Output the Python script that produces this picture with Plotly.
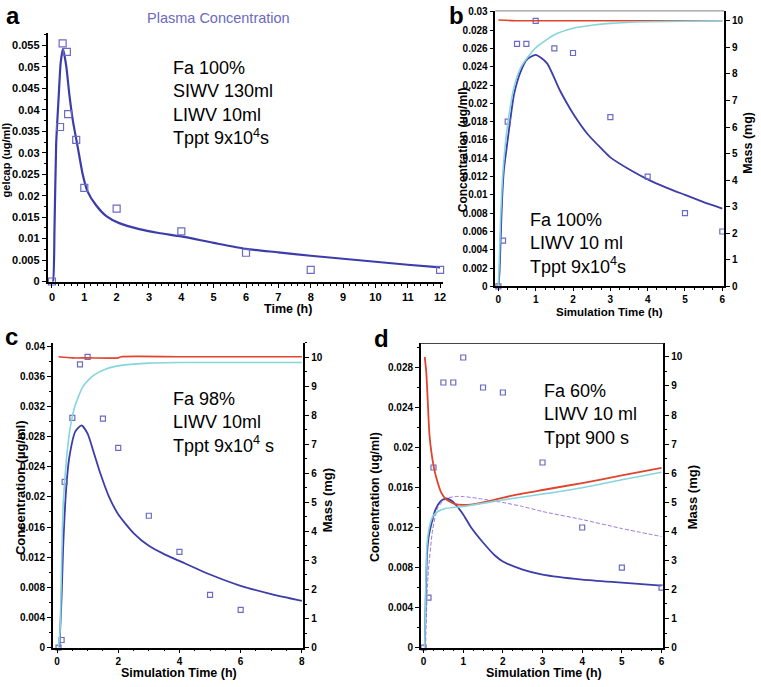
import plotly.graph_objects as go

W, H = 761, 687

# ---------------- Panel a : plasma concentration (gelcap) ----------------
a_obs_time = [0, 0.25, 0.33, 0.46, 0.5, 0.75, 1, 2, 4, 6, 8, 12]
a_obs_conc = [0, 0.036, 0.0555, 0.0535, 0.039, 0.033, 0.0218, 0.017, 0.0117, 0.0067, 0.0027, 0.0027]
a_sim_time = [0, 0.03, 0.08, 0.13, 0.21, 0.27, 0.34, 0.44, 0.54, 0.65, 0.8, 0.95, 1.1, 1.37,
              1.67, 2.08, 2.7, 3.3, 4, 5, 6, 7, 8, 9, 10, 11, 12]
a_sim_conc = [0, 0, 0.0128, 0.032, 0.0434, 0.051, 0.0542, 0.0503, 0.0434, 0.0373, 0.0312, 0.025,
              0.021, 0.0177, 0.0153, 0.0136, 0.0122, 0.0113, 0.0105, 0.009, 0.0076, 0.0068,
              0.006, 0.0053, 0.0046, 0.0039, 0.0033]

# observed data shared by panels b and d
bd_obs_time = [0, 0.125, 0.25, 0.5, 0.75, 1, 1.5, 2, 3, 4, 5, 6]
bd_obs_conc = [0, 0.005, 0.018, 0.0265, 0.0265, 0.029, 0.026, 0.0255, 0.0185, 0.012, 0.008, 0.006]

# ---------------- Panel b ----------------
b_conc_time = [0, 0.03, 0.06, 0.1, 0.15, 0.24, 0.33, 0.42, 0.6, 0.77, 1.0, 1.3, 1.65, 2.0, 2.4,
               2.8, 3.0, 3.5, 4.0, 4.5, 5.0, 5.5, 6.0]
b_conc = [0, 0.0015, 0.005, 0.0095, 0.0128, 0.0157, 0.0185, 0.021, 0.0235, 0.0248, 0.0253, 0.0244,
          0.0214, 0.0189, 0.0166, 0.0149, 0.0141, 0.0128, 0.0117, 0.0108, 0.01, 0.0092, 0.0085]
b_mass_time = [0, 0.03, 0.06, 0.1, 0.15, 0.24, 0.42, 0.6, 0.8, 1.0, 1.5, 2.0, 2.5, 3, 4, 5, 6]
b_mass_abs = [0, 1.2, 2.6, 3.8, 4.8, 6.0, 7.5, 8.24, 8.65, 8.98, 9.47, 9.72, 9.83, 9.9, 9.96, 9.98, 10.0]
b_dose_time = [0, 0.5, 1, 2, 3, 4, 5, 6]
b_dose = [10.03, 10.0, 10.0, 10.0, 10.0, 10.0, 10.0, 10.0]

# ---------------- Panel c ----------------
c_obs_time = [0.05, 0.15, 0.25, 0.5, 0.75, 1, 1.5, 2, 3, 4, 5, 6]
c_obs_conc = [0, 0.001, 0.022, 0.0305, 0.0376, 0.0386, 0.0304, 0.0265, 0.0175, 0.0127, 0.007, 0.005]
c_conc_time = [0.08, 0.15, 0.2, 0.3, 0.4, 0.6, 0.8, 1.0, 1.2, 1.4, 1.7, 2.0, 2.5, 3.0, 3.5,
               4.0, 5.0, 6.0, 7.0, 8.0]
c_conc = [0, 0.0067, 0.0132, 0.0211, 0.0252, 0.0287, 0.0295, 0.0284, 0.0259, 0.0233, 0.02,
          0.0177, 0.0152, 0.0135, 0.0124, 0.0115, 0.0097, 0.0082, 0.0071, 0.0062]
c_mass_time = [0.05, 0.1, 0.15, 0.2, 0.31, 0.42, 0.58, 0.85, 1.18, 1.6, 2.16, 3.0, 4, 6, 8]
c_mass_abs = [0, 0.6, 2.9, 4.9, 6.5, 7.5, 8.3, 9.0, 9.37, 9.6, 9.73, 9.8, 9.82, 9.82, 9.82]
c_dose_time = [0.05, 0.5, 1, 2, 2.1, 4, 6, 8]
c_dose = [10.02, 9.98, 9.98, 9.98, 10.02, 10.02, 10.02, 10.02]

# ---------------- Panel d ----------------
d_conc_time = [0.03, 0.06, 0.09, 0.13, 0.2, 0.3, 0.42, 0.55, 0.7, 0.85, 1.0, 1.2, 1.5, 1.8, 2.0,
               2.5, 3.0, 4.0, 5.0, 6.0]
d_conc = [0, 0.0059, 0.0095, 0.0111, 0.0124, 0.0138, 0.0146, 0.0149, 0.0147, 0.0141, 0.0133,
          0.012, 0.0105, 0.0092, 0.0086, 0.0078, 0.0073, 0.0068, 0.0065, 0.0062]
d_conc2_time = [0.05, 0.11, 0.23, 0.36, 0.57, 0.8, 1.0, 1.4, 2.0, 2.5, 3.0, 4.0, 5.0, 6.0]
d_conc2 = [0, 0.007, 0.0118, 0.014, 0.0149, 0.0151, 0.0151, 0.0149, 0.0145, 0.0141, 0.0136,
           0.0128, 0.0119, 0.0111]
d_mass_time = [0.03, 0.06, 0.09, 0.15, 0.23, 0.36, 0.57, 1.0, 1.74, 2.24, 3.0, 4.0, 5.0, 6.0]
d_mass_abs = [0, 2.47, 3.6, 4.17, 4.5, 4.68, 4.79, 4.85, 5.02, 5.13, 5.28, 5.5, 5.77, 6.03]
d_dose_time = [0.03, 0.07, 0.11, 0.15, 0.2, 0.26, 0.32, 0.44, 0.57, 0.8, 1.2, 1.7, 2.2, 3, 4, 5, 6]
d_dose = [10.0, 9.45, 8.35, 7.3, 6.7, 6.2, 5.85, 5.35, 5.1, 4.93, 4.92, 5.05, 5.22, 5.42, 5.66,
          5.92, 6.18]

# ---------------- styles ----------------
DARK = '#3c3caa'
OBS = '#6b6bc4'
CYAN = '#86d5de'
RED = '#e0442c'
PURP = '#9b79d6'
FONT = 'Liberation Sans, Arial, sans-serif'


def px(x):
    return x / W


def py(y):
    return 1 - y / H


fig = go.Figure()


def line(x, y, xa, ya, color, width=1.8, dash='solid'):
    fig.add_trace(go.Scatter(x=x, y=y, mode='lines', xaxis=xa, yaxis=ya,
                             line=dict(color=color, width=width, dash=dash, shape='spline',
                                       smoothing=0.6),
                             showlegend=False, hoverinfo='skip'))


def obs(x, y, xa, ya, size):
    fig.add_trace(go.Scatter(x=x, y=y, mode='markers', xaxis=xa, yaxis=ya, cliponaxis=False,
                             marker=dict(symbol='square-open', size=size, color=OBS,
                                         line=dict(width=1.2, color=OBS)),
                             showlegend=False, hoverinfo='skip'))


# panel a
line(a_sim_time, a_sim_conc, 'x', 'y', DARK, 2.2)
obs(a_obs_time, a_obs_conc, 'x', 'y', 7)
# panel b
line(b_dose_time, b_dose, 'x2', 'y3', RED, 1.6)
line(b_mass_time, b_mass_abs, 'x2', 'y3', CYAN, 1.6)
line(b_conc_time, b_conc, 'x2', 'y2', DARK, 1.8)
obs(bd_obs_time, bd_obs_conc, 'x2', 'y2', 5)
# panel c
line(c_dose_time, c_dose, 'x3', 'y5', RED, 1.6)
line(c_mass_time, c_mass_abs, 'x3', 'y5', CYAN, 1.6)
line(c_conc_time, c_conc, 'x3', 'y4', DARK, 1.8)
obs(c_obs_time, c_obs_conc, 'x3', 'y4', 5)
# panel d
line(d_dose_time, d_dose, 'x4', 'y7', RED, 1.8)
line(d_mass_time, d_mass_abs, 'x4', 'y7', CYAN, 1.6)
line(d_conc2_time, d_conc2, 'x4', 'y6', PURP, 1.0, '4px,2px')
line(d_conc_time, d_conc, 'x4', 'y6', DARK, 1.8)
obs(bd_obs_time, bd_obs_conc, 'x4', 'y6', 5)


def ax(domain, rng, dtick, minor, tf=10, lw=1.5, **kw):
    d = dict(domain=domain, range=rng, dtick=dtick, tick0=0, tickmode='linear',
             showline=True, linecolor='black', linewidth=lw, ticks='outside', ticklen=4,
             tickcolor='black', tickwidth=1, showgrid=False, zeroline=False,
             tickfont=dict(family=FONT, size=tf, color='black', weight='bold'),
             fixedrange=True)
    if minor:
        d['minor'] = dict(dtick=minor, ticks='outside', ticklen=2, tickcolor='black', showgrid=False)
    d.update(kw)
    return d


fig.update_layout(
    width=W, height=H, margin=dict(l=0, r=0, t=0, b=0),
    paper_bgcolor='white', plot_bgcolor='white', showlegend=False,
    # a
    xaxis=ax([px(48), px(445)], [-0.13, 12.08], 1, 0.2, tf=11, lw=2, anchor='y'),
    yaxis=ax([py(281), py(28)], [0, 0.058], 0.005, 0.0025, tf=11, lw=2, anchor='x'),
    # b
    xaxis2=ax([px(498), px(728)], [-0.08, 6.05], 1, 0.25, anchor='y2', ticklen=3),
    yaxis2=ax([py(286), py(6)], [0, 0.0301], 0.002, None, anchor='x2'),
    yaxis3=ax([py(286), py(6)], [0, 10.37], 1, None, anchor='x2', overlaying='y2', side='right'),
    # c
    xaxis3=ax([px(53), px(305)], [-0.14, 8.05], 2, 0.5, anchor='y4'),
    yaxis4=ax([py(653), py(343)], [0, 0.0405], 0.004, 0.002, anchor='x3'),
    yaxis5=ax([py(653), py(343)], [0, 10.51], 1, 0.5, anchor='x3', overlaying='y4', side='right'),
    # d
    xaxis4=ax([px(423), px(667)], [-0.07, 6.05], 1, 0.25, anchor='y6'),
    yaxis6=ax([py(653), py(344)], [0, 0.0304], 0.004, 0.002, anchor='x4'),
    yaxis7=ax([py(653), py(344)], [0, 10.46], 1, 0.5, anchor='x4', overlaying='y6', side='right'),
)

# top frame lines for b and d
fig.add_shape(type='line', xref='paper', yref='paper', x0=px(498), x1=px(728), y0=py(6), y1=py(6),
              line=dict(color='#999999', width=1.2))
fig.add_shape(type='line', xref='paper', yref='paper', x0=px(423), x1=px(667), y0=py(344), y1=py(344),
              line=dict(color='#444444', width=1))


def note(x, y, text, size, bold=False, angle=0, color='black', xanchor='center', align='center'):
    fig.add_annotation(x=px(x), y=py(y), xref='paper', yref='paper', text=text, showarrow=False,
                       xanchor=xanchor, yanchor='middle', align=align, textangle=angle,
                       font=dict(family=FONT, size=size, color=color,
                                 weight='bold' if bold else 'normal'))


# panel letters
note(13, 11, 'a', 24, True)
note(459, 11, 'b', 24, True)
note(12, 337, 'c', 24, True)
note(384, 339, 'd', 24, True)

# panel a texts
note(220, 13, 'Plasma Concentration', 14.5, color='#6a6ac0')
note(7, 157, 'gelcap (ug/ml)', 11, True, -90)
note(290, 309, 'Time (h)', 12.5, True)
note(172, 100, 'Fa 100%<br>SIWV 130ml<br>LIWV 10ml<br>Tppt 9x10<sup>4</sup>s', 18,
     xanchor='left', align='left')

# panel b texts
note(465, 147, 'Concentration (ug/ml)', 12, True, -90)
note(752, 140, 'Mass (mg)', 12.5, True, -90)
note(613, 312.5, 'Simulation Time (h)', 11.5, True)
note(531, 242, 'Fa 100%<br>LIWV 10 ml<br>Tppt 9x10<sup>4</sup>s', 18, xanchor='left', align='left')

# panel c texts
note(20, 490, 'Concentration (µg/ml)', 13, True, -90)
note(330, 503, 'Mass (mg)', 13, True, -90)
note(180, 679, 'Simulation Time (h)', 12.5, True)
note(172, 424, 'Fa 98%<br>LIWV 10ml<br>Tppt 9x10<sup>4</sup> s', 18, xanchor='left', align='left')

# panel d texts
note(377, 500, 'Concentration (ug/ml)', 12.5, True, -90)
note(697, 500, 'Mass (mg)', 13, True, -90)
note(547, 679, 'Simulation Time (h)', 12.5, True)
note(545, 416, 'Fa 60%<br>LIWV 10 ml<br>Tppt 900 s', 18, xanchor='left', align='left')

fig.write_html('out.html', config={'displayModeBar': False},
               post_script="document.body.style.margin='0px';")
